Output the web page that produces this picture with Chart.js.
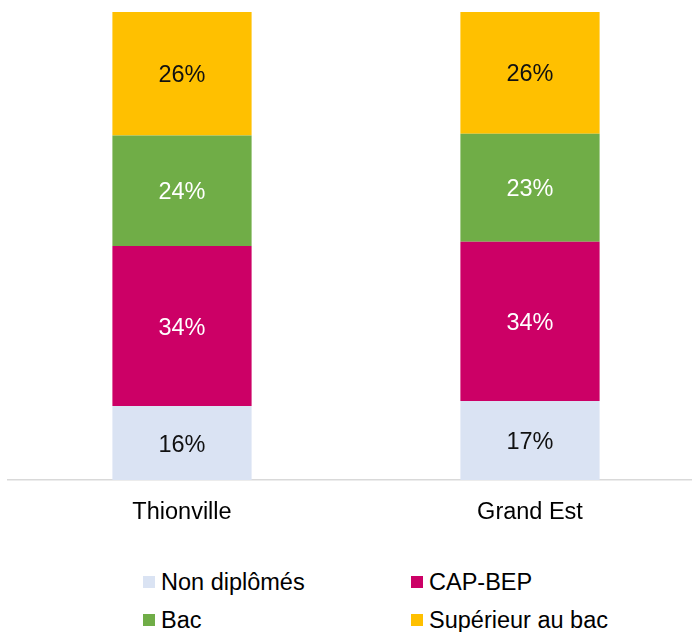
<!DOCTYPE html>
<html lang="fr">
<head>
<meta charset="utf-8">
<script src="https://cdn.jsdelivr.net/npm/chart.js@4/dist/chart.umd.min.js"></script>
<style>
  html, body { margin: 0; padding: 0; background: #fff; overflow: hidden; }
  body { width: 692px; height: 632px; position: relative; font-family: "Liberation Sans", Arial, sans-serif; }
  #wrap { position: absolute; left: 0; top: 0; width: 704px; height: 530px; }
  .leg { position: absolute; display: flex; align-items: center; font-size: 23.5px; color: #000; white-space: nowrap; }
  .leg span.box { display: inline-block; width: 12px; height: 12px; margin-right: 6px; }
</style>
</head>
<body>
<div id="wrap"><canvas id="chart"></canvas></div>
<div id="legend"></div>
<script>
// data
const categories = ['Thionville', 'Grand Est'];
const seriesNames = ['Non diplômés', 'CAP-BEP', 'Bac', 'Supérieur au bac'];
const nonDiplomes = [15.8, 16.9];
const capBep = [34.2, 34.0];
const bac = [23.6, 23.1];
const superieur = [26.4, 26.0];

const colors = ['#DAE3F3', '#CC0066', '#70AD47', '#FFC000'];
const labelColors = ['#111111', '#ffffff', '#ffffff', '#111111'];
const FONT = '"Liberation Sans", Arial, sans-serif';

// value labels in the middle of each segment
const segmentLabels = {
  id: 'segmentLabels',
  afterDatasetsDraw(chart) {
    const ctx = chart.ctx;
    ctx.save();
    ctx.font = '23.5px ' + FONT;
    ctx.textAlign = 'center';
    ctx.textBaseline = 'middle';
    chart.data.datasets.forEach((ds, i) => {
      chart.getDatasetMeta(i).data.forEach((bar, j) => {
        ctx.fillStyle = labelColors[i];
        ctx.fillText(Math.round(ds.data[j]) + '%', bar.x, (bar.y + bar.base) / 2 + 2);
      });
    });
    ctx.restore();
  }
};

const allSeries = [nonDiplomes, capBep, bac, superieur];

const chart = new Chart(document.getElementById('chart'), {
  type: 'bar',
  data: {
    labels: categories,
    datasets: allSeries.map((values, i) => ({
      label: seriesNames[i],
      data: values,
      backgroundColor: colors[i],
      borderWidth: 0,
      barPercentage: 0.4,
      categoryPercentage: 1
    }))
  },
  options: {
    responsive: true,
    maintainAspectRatio: false,
    animation: false,
    layout: { padding: { left: 8, top: 12, right: 0, bottom: 0 } },
    plugins: {
      legend: { display: false },
      tooltip: { enabled: false }
    },
    scales: {
      x: {
        stacked: true,
        grid: { display: false, drawTicks: false },
        border: { display: true, color: '#d9d9d9', width: 1.5 },
        ticks: { color: '#000', font: { family: FONT, size: 23.5 }, padding: 18 },
        afterFit(scale) { scale.height = 50; }
      },
      y: {
        stacked: true,
        display: false,
        min: 0,
        max: 100
      }
    }
  },
  plugins: [segmentLabels]
});

// legend in two columns, like the original
const legendPos = [
  { left: 143, top: 582 },
  { left: 411, top: 582 },
  { left: 143, top: 620 },
  { left: 411, top: 620 }
];
const legend = document.getElementById('legend');
seriesNames.forEach((name, i) => {
  const item = document.createElement('div');
  item.className = 'leg';
  item.style.left = legendPos[i].left + 'px';
  item.style.top = (legendPos[i].top - 14) + 'px';
  item.style.height = '28px';
  item.innerHTML = `<span class="box" style="background:${colors[i]}"></span>${name}`;
  legend.appendChild(item);
});
</script>
</body>
</html>
